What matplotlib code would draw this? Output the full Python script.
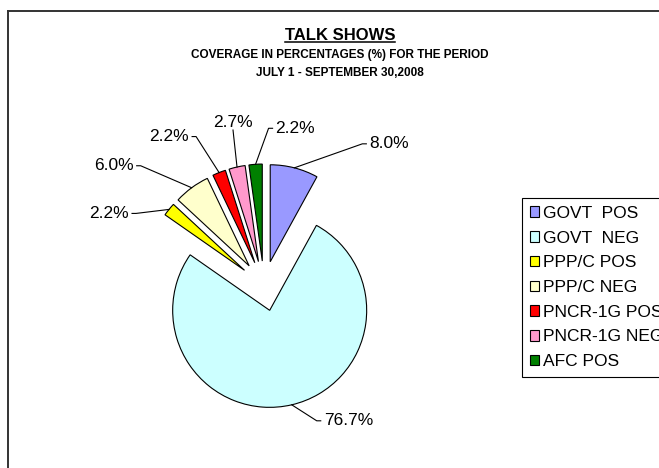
import math
import matplotlib.pyplot as plt
from matplotlib.lines import Line2D
from matplotlib.patches import Patch

plt.rcParams['font.family'] = ['Liberation Sans', 'DejaVu Sans']

categories = ["GOVT  POS", "GOVT  NEG", "PPP/C POS", "PPP/C NEG",
              "PNCR-1G POS", "PNCR-1G NEG", "AFC POS"]
shares = [8.0, 76.7, 2.2, 6.0, 2.2, 2.7, 2.2]
colors = ["#9999FF", "#CCFFFF", "#FFFF00", "#FFFFCC", "#FF0000", "#FF99CC", "#008000"]

# label offsets from the slice's outer mid point (pixels, y down) and alignment
label_offsets = [(75, -24, "left"), (32, 16, "left"), (-40, 4, "right"),
                 (-58, -22, "right"), (-30, -36, "right"), (-4, -45, "center"),
                 (20, -36, "left")]

W, H = 659, 468
R = 97            # pie radius, px
cx, cy = 264, 286  # pie centre, px from top-left
gap = 25          # explode distance, px

fig = plt.figure(figsize=(W / 100, H / 100), dpi=100)
ax = fig.add_axes([0, 0, 1, 1])

wedges, _ = ax.pie(shares, colors=colors, startangle=90, counterclock=False,
                   explode=[gap / R] * len(shares),
                   wedgeprops=dict(edgecolor="black", linewidth=0.8))
ax.set_xlim(-cx / R, (W - cx) / R)
ax.set_ylim(-(H - cy) / R, cy / R)
ax.set_aspect("auto")
ax.axis("off")


def to_data(px, py):
    return (px - cx) / R, (cy - py) / R


# percentage labels with leader lines
for w, val, (dx, dy, ha) in zip(wedges, shares, label_offsets):
    tm = math.radians((w.theta1 + w.theta2) / 2)
    ax_d = w.center[0] + w.r * math.cos(tm)
    ay_d = w.center[1] + w.r * math.sin(tm)
    apx, apy = cx + ax_d * R, cy - ay_d * R
    tx, ty = apx + dx, apy + dy
    if ha == "left":
        end, elbow = (tx - 3, ty), (tx - 7, ty)
    elif ha == "right":
        end, elbow = (tx + 3, ty), (tx + 7, ty)
    else:
        end = elbow = (tx, ty + 8)
    pts = [(apx, apy), elbow, end]
    xs, ys = zip(*[to_data(*p) for p in pts])
    ax.plot(xs, ys, color="black", lw=0.8)
    ax.text(*to_data(tx, ty), f"{val:.1f}%", ha=ha, va="center",
            fontsize=12.5, color="black")

# chart area border (runs off the right and bottom)
fig.add_artist(Line2D([8 / W, 8 / W], [0, 1 - 11 / H], color="#333333", lw=1.4))
fig.add_artist(Line2D([8 / W, 1], [1 - 11 / H, 1 - 11 / H], color="#333333", lw=1.4))

# titles
title = fig.text(340 / W, 1 - 35 / H, "TALK SHOWS", ha="center", va="center",
                 fontsize=12, fontweight="bold")
fig.text(340 / W, 1 - 55 / H, "COVERAGE IN PERCENTAGES (%) FOR THE PERIOD",
         ha="center", va="center", fontsize=8.5, fontweight="bold")
fig.text(340 / W, 1 - 73 / H, "JULY 1 - SEPTEMBER 30,2008",
         ha="center", va="center", fontsize=8.5, fontweight="bold")

fig.canvas.draw()
bb = title.get_window_extent()
uy = (bb.y0 + 1) / H
fig.add_artist(Line2D([bb.x0 / W, bb.x1 / W], [uy, uy], color="black", lw=1.1))

handles = [Patch(facecolor=c, edgecolor="black", linewidth=0.8) for c in colors]
leg = fig.legend(handles, categories, loc="upper left",
                 bbox_to_anchor=(522 / W, 1 - 198 / H), fontsize=12.5,
                 frameon=True, fancybox=False, edgecolor="black", framealpha=1,
                 borderpad=0.45, handlelength=0.55, handleheight=0.55,
                 handletextpad=0.2, labelspacing=0.56, borderaxespad=0)
leg.get_frame().set_linewidth(0.8)

fig.savefig("out.png", dpi=100)
